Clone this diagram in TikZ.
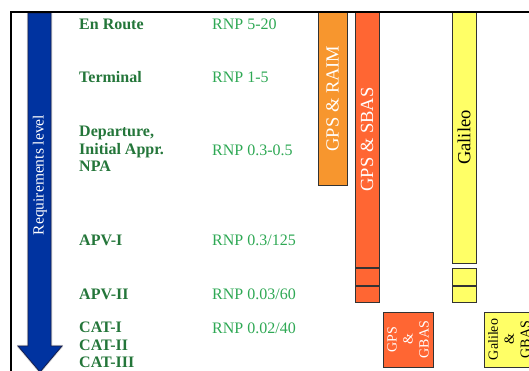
\documentclass[tikz,border=0pt]{standalone}
\usepackage{fontspec}
\setmainfont{Liberation Serif}
\usetikzlibrary{positioning}

\definecolor{phasegreen}{RGB}{36,118,58}
\definecolor{rnpgreen}{RGB}{46,168,84}
\definecolor{raimorange}{RGB}{247,150,46}
\definecolor{sbasred}{RGB}{255,102,51}
\definecolor{galyellow}{RGB}{255,255,102}
\definecolor{reqblue}{RGB}{0,51,160}
\definecolor{reqnavy}{RGB}{20,30,80}

\tikzset{
  phase/.style={anchor=west, inner sep=0pt, text=phasegreen, font=\fontsize{16}{17.5}\selectfont\bfseries, align=left},
  rnp/.style={anchor=west, inner sep=0pt, text=rnpgreen, font=\fontsize{16}{18}\selectfont},
  bar/.style={draw=black!80, line width=0.8pt, rotate=90, inner sep=0pt, font=\fontsize{18.5}{20}\selectfont},
  cell/.style={draw=black!80, line width=0.8pt, inner sep=0pt, minimum width=24pt, minimum height=16.5pt},
  gbas/.style={bar, font=\fontsize{14}{16}\selectfont, align=center, minimum width=55pt, minimum height=50pt}
}

\begin{document}
\begin{tikzpicture}[x=1pt, y=-1pt]
    \useasboundingbox (0,0) rectangle (529,371);

    % requirements arrow
    \draw[gray!30, line width=2.5pt, line join=round] (28,13) -- (51,13) -- (51,346) -- (62,346) -- (40,372) -- (18,346) -- (28,346) -- cycle;
    \draw[fill=reqblue, draw=reqnavy, line width=0.8pt] (28,13) -- (51,13) -- (51,346) -- (62,346) -- (40,372) -- (18,346) -- (28,346) -- cycle;
    \node[rotate=90, text=white, font=\fontsize{15.5}{16}\selectfont] (req) at (40,175) {Requirements level};

    % phases of flight
    \node[phase] (enroute) at (79,24) {En Route};
    \node[phase] (terminal) at (79,77) {Terminal};
    \node[phase] (departure) at (79,149) {Departure,\\Initial Appr.\\NPA};
    \node[phase] (apv1) at (79,240) {APV-I};
    \node[phase] (apv2) at (79,294) {APV-II};
    \node[phase] (cat) at (79,345) {CAT-I\\CAT-II\\CAT-III};

    % RNP values
    \node[rnp] (rnp1) at (212,24) {RNP 5-20};
    \node[rnp] (rnp2) at (212,77) {RNP 1-5};
    \node[rnp] (rnp3) at (212,150) {RNP 0.3-0.5};
    \node[rnp] (rnp4) at (212,240) {RNP 0.3/125};
    \node[rnp] (rnp5) at (212,294) {RNP 0.03/60};
    \node[rnp] (rnp6) at (212,328) {RNP 0.02/40};

    % systems
    \node[bar, fill=raimorange, text=white, minimum width=173pt, minimum height=29pt] (raim) at (332.5,98.5) {GPS \& RAIM};
    \node[bar, fill=sbasred, text=white, minimum width=255pt, minimum height=24pt] (sbas) at (367,139.5) {GPS \& SBAS};
    \node[bar, fill=galyellow, text=black, minimum width=251pt, minimum height=24pt] (galileo) at (464,137.5) {Galileo};
    \node[cell, fill=sbasred] (sbas1) at (367,277) {};
    \node[cell, fill=sbasred, below=0pt of sbas1] (sbas2) {};
    \node[cell, fill=galyellow] (gal1) at (464,277) {};
    \node[cell, fill=galyellow, below=0pt of gal1] (gal2) {};
    \node[gbas, fill=sbasred, text=white] (gpsgbas) at (408,339.5) {GPS\\\&\\GBAS};
    \node[gbas, fill=galyellow, text=black] (galgbas) at (509,339.5) {Galileo\\\&\\GBAS};

    % frame
    \draw[line width=1.3pt] (529,12) -- (11,12) -- (11,371);
  \end{tikzpicture}
\end{document}
